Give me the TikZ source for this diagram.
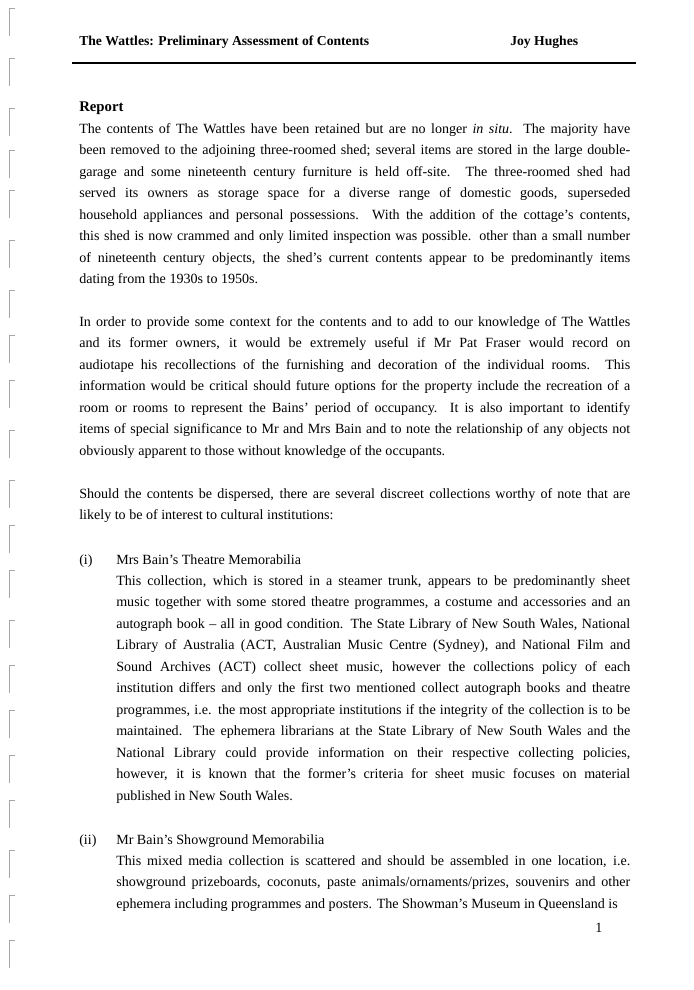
\documentclass[tikz,border=0pt]{standalone}
\usepackage{fontspec}
\setmainfont{Liberation Serif}
\tikzset{
  para/.style={anchor=north west, inner sep=0pt, align=justify, font=\fontsize{10pt}{15.3pt}\selectfont},
  head/.style={anchor=base west, inner sep=0pt, font=\fontsize{9.7pt}{11pt}\selectfont\bfseries},
  ring/.style={draw=black!35, line width=0.6pt}
}
\begin{document}
\begin{tikzpicture}[x=0.025cm, y=-0.025cm]
	\useasboundingbox[fill=white] (0,0) rectangle (694,990);
	
	% binder marks
	\foreach \y in {8,58,108,150,190,240,290,335,380,430,480,525,570,620,665,710,755,800,850,895,940}
		\draw[ring] (15,\y) -- (9,\y) -- (9,\y+28);
	
	\node[head] (title) at (79,46) {The Wattles: Preliminary Assessment of Contents};
	\node[head] (author) at (510,46) {Joy Hughes};
	\coordinate (rl) at (72,63);
	\coordinate (rr) at (636,63);
	\draw[line width=1pt] (rl) -- (rr);
	
	\node[anchor=base west, inner sep=0pt, font=\fontsize{10.5pt}{12pt}\selectfont\bfseries] (report) at (79,112) {Report};
	
	\node[para, text width=551*0.025cm] (p1) at (79,123) {The contents of The Wattles have been retained but are no longer \textit{in situ}. The majority have\linebreak
	been removed to the adjoining three-roomed shed; several items are stored in the large double-\linebreak
	garage and some nineteenth century furniture is held off-site. The three-roomed shed had\linebreak
	served its owners as storage space for a diverse range of domestic goods, superseded\linebreak
	household appliances and personal possessions. With the addition of the cottage's contents,\linebreak
	this shed is now crammed and only limited inspection was possible. other than a small number\linebreak
	of nineteenth century objects, the shed's current contents appear to be predominantly items\linebreak
	dating from the 1930s to 1950s.};
	
	\node[para, text width=551*0.025cm] (p2) at (79,316) {In order to provide some context for the contents and to add to our knowledge of The Wattles\linebreak
	and its former owners, it would be extremely useful if Mr Pat Fraser would record on\linebreak
	audiotape his recollections of the furnishing and decoration of the individual rooms. This\linebreak
	information would be critical should future options for the property include the recreation of a\linebreak
	room or rooms to represent the Bains' period of occupancy. It is also important to identify\linebreak
	items of special significance to Mr and Mrs Bain and to note the relationship of any objects not\linebreak
	obviously apparent to those without knowledge of the occupants.};
	
	\node[para, text width=551*0.025cm] (p3) at (79,488) {Should the contents be dispersed, there are several discreet collections worthy of note that are\linebreak
	likely to be of interest to cultural institutions:};
	
	\node[para] (n1) at (79,554) {(i)};
	\node[para] (h1) at (116,554) {Mrs Bain's Theatre Memorabilia};
	\node[para, text width=514*0.025cm] (b1) at (116,575) {This collection, which is stored in a steamer trunk, appears to be predominantly sheet\linebreak
	music together with some stored theatre programmes, a costume and accessories and an\linebreak
	autograph book -- all in good condition. The State Library of New South Wales, National\linebreak
	Library of Australia (ACT, Australian Music Centre (Sydney), and National Film and\linebreak
	Sound Archives (ACT) collect sheet music, however the collections policy of each\linebreak
	institution differs and only the first two mentioned collect autograph books and theatre\linebreak
	programmes, i.e. the most appropriate institutions if the integrity of the collection is to be\linebreak
	maintained. The ephemera librarians at the State Library of New South Wales and the\linebreak
	National Library could provide information on their respective collecting policies,\linebreak
	however, it is known that the former's criteria for sheet music focuses on material\linebreak
	published in New South Wales.};
	
	\node[para] (n2) at (79,834) {(ii)};
	\node[para] (h2) at (116,834) {Mr Bain's Showground Memorabilia};
	\node[para, text width=514*0.025cm] (b2) at (116,855) {This mixed media collection is scattered and should be assembled in one location, i.e.\linebreak
	showground prizeboards, coconuts, paste animals/ornaments/prizes, souvenirs and other\linebreak
	ephemera including programmes and posters. The Showman's Museum in Queensland is};
	
	\node[para] (page) at (595,923) {1};
\end{tikzpicture}
\end{document}
